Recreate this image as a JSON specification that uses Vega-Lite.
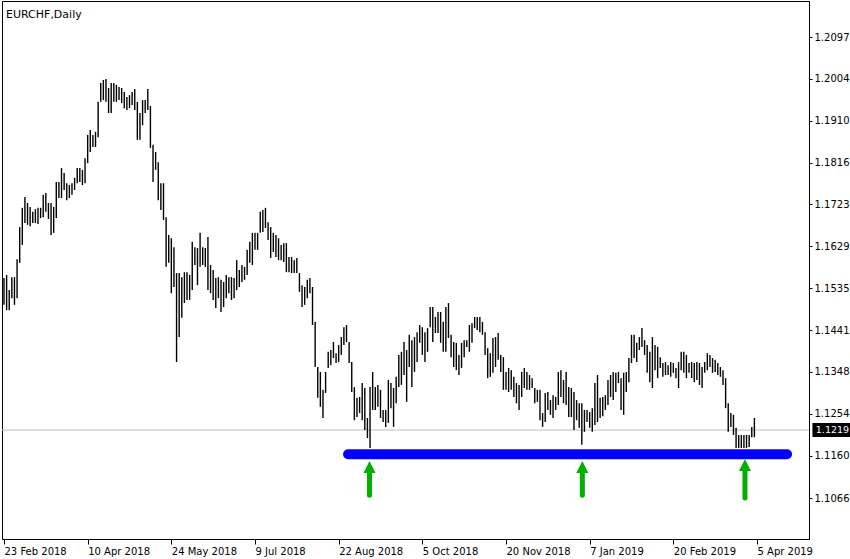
{
"$schema":"https://vega.github.io/schema/vega-lite/v6.json",
"width":807,"height":538,
"autosize":{"type":"none"},
"padding":{"left":2,"top":1,"right":41,"bottom":20},
"background":"white",
"title":{"text":"EURCHF,Daily","anchor":"start","frame":"group","orient":"top","offset":-8,"baseline":"top","dx":4,"dy":11,"font":"DejaVu Sans","fontSize":11,"fontWeight":"normal","color":"black"},
"config":{"view":{"stroke":"black","strokeWidth":1},"axis":{"grid":false,"domainColor":"black","tickColor":"black","labelColor":"black","labelFont":"DejaVu Sans","labelFontSize":10}},
"datasets":{
"bars":[
{"i":0,"h":1.1558,"l":1.1498},{"i":1,"h":1.1565,"l":1.1486},{"i":2,"h":1.1531,"l":1.1486},{"i":3,"h":1.1560,"l":1.1513},{"i":4,"h":1.1560,"l":1.1498},{"i":5,"h":1.1600,"l":1.1513},{"i":6,"h":1.1672,"l":1.1592},{"i":7,"h":1.1715,"l":1.1632},{"i":8,"h":1.1739,"l":1.1681},{"i":9,"h":1.1726,"l":1.1677},
{"i":10,"h":1.1717,"l":1.1674},{"i":11,"h":1.1706,"l":1.1681},{"i":12,"h":1.1712,"l":1.1681},{"i":13,"h":1.1715,"l":1.1679},{"i":14,"h":1.1715,"l":1.1692},{"i":15,"h":1.1744,"l":1.1694},{"i":16,"h":1.1748,"l":1.1706},{"i":17,"h":1.1726,"l":1.1690},{"i":18,"h":1.1726,"l":1.1654},{"i":19,"h":1.1717,"l":1.1659},
{"i":20,"h":1.1773,"l":1.1692},{"i":21,"h":1.1773,"l":1.1737},{"i":22,"h":1.1804,"l":1.1737},{"i":23,"h":1.1793,"l":1.1755},{"i":24,"h":1.1770,"l":1.1732},{"i":25,"h":1.1766,"l":1.1737},{"i":26,"h":1.1770,"l":1.1744},{"i":27,"h":1.1782,"l":1.1755},{"i":28,"h":1.1804,"l":1.1770},{"i":29,"h":1.1804,"l":1.1773},
{"i":30,"h":1.1800,"l":1.1766},{"i":31,"h":1.1826,"l":1.1770},{"i":32,"h":1.1878,"l":1.1815},{"i":33,"h":1.1889,"l":1.1840},{"i":34,"h":1.1878,"l":1.1851},{"i":35,"h":1.1885,"l":1.1851},{"i":36,"h":1.1952,"l":1.1873},{"i":37,"h":1.1994,"l":1.1952},{"i":38,"h":1.2001,"l":1.1956},{"i":39,"h":1.2003,"l":1.1952},
{"i":40,"h":1.1983,"l":1.1927},{"i":41,"h":1.1994,"l":1.1927},{"i":42,"h":1.1994,"l":1.1952},{"i":43,"h":1.1990,"l":1.1952},{"i":44,"h":1.1985,"l":1.1956},{"i":45,"h":1.1983,"l":1.1949},{"i":46,"h":1.1974,"l":1.1938},{"i":47,"h":1.1963,"l":1.1934},{"i":48,"h":1.1967,"l":1.1938},{"i":49,"h":1.1974,"l":1.1945},
{"i":50,"h":1.1981,"l":1.1934},{"i":51,"h":1.1952,"l":1.1867},{"i":52,"h":1.1927,"l":1.1867},{"i":53,"h":1.1956,"l":1.1900},{"i":54,"h":1.1956,"l":1.1927},{"i":55,"h":1.1981,"l":1.1934},{"i":56,"h":1.1943,"l":1.1849},{"i":57,"h":1.1856,"l":1.1773},{"i":58,"h":1.1840,"l":1.1800},{"i":59,"h":1.1817,"l":1.1732},
{"i":60,"h":1.1770,"l":1.1710},{"i":61,"h":1.1770,"l":1.1688},{"i":62,"h":1.1694,"l":1.1583},{"i":63,"h":1.1654,"l":1.1592},{"i":64,"h":1.1647,"l":1.1524},{"i":65,"h":1.1627,"l":1.1538},{"i":66,"h":1.1569,"l":1.1370},{"i":67,"h":1.1569,"l":1.1426},{"i":68,"h":1.1560,"l":1.1469},{"i":69,"h":1.1571,"l":1.1502},
{"i":70,"h":1.1571,"l":1.1509},{"i":71,"h":1.1565,"l":1.1509},{"i":72,"h":1.1639,"l":1.1531},{"i":73,"h":1.1627,"l":1.1587},{"i":74,"h":1.1625,"l":1.1542},{"i":75,"h":1.1659,"l":1.1583},{"i":76,"h":1.1627,"l":1.1587},{"i":77,"h":1.1625,"l":1.1583},{"i":78,"h":1.1650,"l":1.1531},{"i":79,"h":1.1587,"l":1.1524},
{"i":80,"h":1.1576,"l":1.1509},{"i":81,"h":1.1558,"l":1.1491},{"i":82,"h":1.1560,"l":1.1513},{"i":83,"h":1.1554,"l":1.1482},{"i":84,"h":1.1549,"l":1.1493},{"i":85,"h":1.1565,"l":1.1513},{"i":86,"h":1.1560,"l":1.1524},{"i":87,"h":1.1560,"l":1.1509},{"i":88,"h":1.1558,"l":1.1513},{"i":89,"h":1.1598,"l":1.1531},
{"i":90,"h":1.1576,"l":1.1538},{"i":91,"h":1.1587,"l":1.1549},{"i":92,"h":1.1583,"l":1.1554},{"i":93,"h":1.1621,"l":1.1565},{"i":94,"h":1.1639,"l":1.1592},{"i":95,"h":1.1659,"l":1.1587},{"i":96,"h":1.1659,"l":1.1621},{"i":97,"h":1.1659,"l":1.1621},{"i":98,"h":1.1706,"l":1.1659},{"i":99,"h":1.1710,"l":1.1661},
{"i":100,"h":1.1715,"l":1.1670},{"i":101,"h":1.1683,"l":1.1643},{"i":102,"h":1.1672,"l":1.1603},{"i":103,"h":1.1659,"l":1.1616},{"i":104,"h":1.1654,"l":1.1605},{"i":105,"h":1.1647,"l":1.1598},{"i":106,"h":1.1632,"l":1.1598},{"i":107,"h":1.1636,"l":1.1594},{"i":108,"h":1.1636,"l":1.1571},{"i":109,"h":1.1605,"l":1.1571},
{"i":110,"h":1.1605,"l":1.1569},{"i":111,"h":1.1598,"l":1.1569},{"i":112,"h":1.1603,"l":1.1569},{"i":113,"h":1.1569,"l":1.1527},{"i":114,"h":1.1542,"l":1.1493},{"i":115,"h":1.1538,"l":1.1498},{"i":116,"h":1.1554,"l":1.1513},{"i":117,"h":1.1558,"l":1.1524},{"i":118,"h":1.1538,"l":1.1453},{"i":119,"h":1.1460,"l":1.1359},
{"i":120,"h":1.1359,"l":1.1290},{"i":121,"h":1.1348,"l":1.1270},{"i":122,"h":1.1308,"l":1.1245},{"i":123,"h":1.1348,"l":1.1301},{"i":124,"h":1.1393,"l":1.1357},{"i":125,"h":1.1397,"l":1.1363},{"i":126,"h":1.1415,"l":1.1379},{"i":127,"h":1.1390,"l":1.1368},{"i":128,"h":1.1408,"l":1.1370},{"i":129,"h":1.1426,"l":1.1386},
{"i":130,"h":1.1448,"l":1.1408},{"i":131,"h":1.1453,"l":1.1415},{"i":132,"h":1.1415,"l":1.1368},{"i":133,"h":1.1370,"l":1.1303},{"i":134,"h":1.1314,"l":1.1240},{"i":135,"h":1.1290,"l":1.1247},{"i":136,"h":1.1292,"l":1.1256},{"i":137,"h":1.1323,"l":1.1240},{"i":138,"h":1.1312,"l":1.1218},{"i":139,"h":1.1245,"l":1.1200},
{"i":140,"h":1.1314,"l":1.1178},{"i":141,"h":1.1348,"l":1.1263},{"i":142,"h":1.1314,"l":1.1263},{"i":143,"h":1.1319,"l":1.1270},{"i":144,"h":1.1308,"l":1.1245},{"i":145,"h":1.1263,"l":1.1236},{"i":146,"h":1.1263,"l":1.1225},{"i":147,"h":1.1330,"l":1.1234},{"i":148,"h":1.1323,"l":1.1267},{"i":149,"h":1.1312,"l":1.1225},
{"i":150,"h":1.1337,"l":1.1278},{"i":151,"h":1.1386,"l":1.1314},{"i":152,"h":1.1393,"l":1.1319},{"i":153,"h":1.1415,"l":1.1341},{"i":154,"h":1.1397,"l":1.1281},{"i":155,"h":1.1431,"l":1.1359},{"i":156,"h":1.1419,"l":1.1314},{"i":157,"h":1.1426,"l":1.1348},{"i":158,"h":1.1437,"l":1.1370},{"i":159,"h":1.1453,"l":1.1413},
{"i":160,"h":1.1448,"l":1.1386},{"i":161,"h":1.1437,"l":1.1370},{"i":162,"h":1.1446,"l":1.1393},{"i":163,"h":1.1493,"l":1.1448},{"i":164,"h":1.1493,"l":1.1415},{"i":165,"h":1.1471,"l":1.1435},{"i":166,"h":1.1482,"l":1.1435},{"i":167,"h":1.1482,"l":1.1413},{"i":168,"h":1.1460,"l":1.1393},{"i":169,"h":1.1493,"l":1.1393},
{"i":170,"h":1.1502,"l":1.1424},{"i":171,"h":1.1431,"l":1.1381},{"i":172,"h":1.1415,"l":1.1359},{"i":173,"h":1.1413,"l":1.1352},{"i":174,"h":1.1386,"l":1.1341},{"i":175,"h":1.1413,"l":1.1357},{"i":176,"h":1.1419,"l":1.1381},{"i":177,"h":1.1419,"l":1.1404},{"i":178,"h":1.1453,"l":1.1393},{"i":179,"h":1.1457,"l":1.1413},
{"i":180,"h":1.1471,"l":1.1446},{"i":181,"h":1.1471,"l":1.1442},{"i":182,"h":1.1471,"l":1.1437},{"i":183,"h":1.1460,"l":1.1431},{"i":184,"h":1.1437,"l":1.1386},{"i":185,"h":1.1401,"l":1.1334},{"i":186,"h":1.1390,"l":1.1337},{"i":187,"h":1.1424,"l":1.1346},{"i":188,"h":1.1426,"l":1.1359},{"i":189,"h":1.1435,"l":1.1375},
{"i":190,"h":1.1386,"l":1.1348},{"i":191,"h":1.1381,"l":1.1308},{"i":192,"h":1.1348,"l":1.1308},{"i":193,"h":1.1357,"l":1.1303},{"i":194,"h":1.1352,"l":1.1308},{"i":195,"h":1.1337,"l":1.1292},{"i":196,"h":1.1323,"l":1.1278},{"i":197,"h":1.1319,"l":1.1263},{"i":198,"h":1.1348,"l":1.1292},{"i":199,"h":1.1357,"l":1.1312},
{"i":200,"h":1.1348,"l":1.1308},{"i":201,"h":1.1341,"l":1.1308},{"i":202,"h":1.1334,"l":1.1312},{"i":203,"h":1.1312,"l":1.1278},{"i":204,"h":1.1308,"l":1.1281},{"i":205,"h":1.1308,"l":1.1240},{"i":206,"h":1.1256,"l":1.1225},{"i":207,"h":1.1301,"l":1.1236},{"i":208,"h":1.1303,"l":1.1263},{"i":209,"h":1.1285,"l":1.1252},
{"i":210,"h":1.1296,"l":1.1245},{"i":211,"h":1.1292,"l":1.1263},{"i":212,"h":1.1348,"l":1.1274},{"i":213,"h":1.1352,"l":1.1292},{"i":214,"h":1.1330,"l":1.1278},{"i":215,"h":1.1348,"l":1.1274},{"i":216,"h":1.1314,"l":1.1247},{"i":217,"h":1.1312,"l":1.1247},{"i":218,"h":1.1303,"l":1.1218},{"i":219,"h":1.1285,"l":1.1240},
{"i":220,"h":1.1278,"l":1.1223},{"i":221,"h":1.1278,"l":1.1185},{"i":222,"h":1.1263,"l":1.1214},{"i":223,"h":1.1263,"l":1.1236},{"i":224,"h":1.1258,"l":1.1223},{"i":225,"h":1.1267,"l":1.1214},{"i":226,"h":1.1323,"l":1.1229},{"i":227,"h":1.1341,"l":1.1236},{"i":228,"h":1.1290,"l":1.1245},{"i":229,"h":1.1292,"l":1.1249},
{"i":230,"h":1.1296,"l":1.1263},{"i":231,"h":1.1330,"l":1.1274},{"i":232,"h":1.1341,"l":1.1292},{"i":233,"h":1.1348,"l":1.1285},{"i":234,"h":1.1346,"l":1.1303},{"i":235,"h":1.1348,"l":1.1323},{"i":236,"h":1.1334,"l":1.1263},{"i":237,"h":1.1346,"l":1.1252},{"i":238,"h":1.1348,"l":1.1303},{"i":239,"h":1.1379,"l":1.1325},
{"i":240,"h":1.1431,"l":1.1368},{"i":241,"h":1.1431,"l":1.1379},{"i":242,"h":1.1413,"l":1.1370},{"i":243,"h":1.1426,"l":1.1397},{"i":244,"h":1.1446,"l":1.1404},{"i":245,"h":1.1419,"l":1.1386},{"i":246,"h":1.1408,"l":1.1346},{"i":247,"h":1.1393,"l":1.1325},{"i":248,"h":1.1426,"l":1.1312},{"i":249,"h":1.1408,"l":1.1352},
{"i":250,"h":1.1404,"l":1.1334},{"i":251,"h":1.1381,"l":1.1357},{"i":252,"h":1.1368,"l":1.1337},{"i":253,"h":1.1370,"l":1.1341},{"i":254,"h":1.1363,"l":1.1341},{"i":255,"h":1.1370,"l":1.1337},{"i":256,"h":1.1368,"l":1.1346},{"i":257,"h":1.1357,"l":1.1334},{"i":258,"h":1.1370,"l":1.1312},{"i":259,"h":1.1393,"l":1.1352},
{"i":260,"h":1.1393,"l":1.1346},{"i":261,"h":1.1386,"l":1.1334},{"i":262,"h":1.1368,"l":1.1346},{"i":263,"h":1.1370,"l":1.1334},{"i":264,"h":1.1368,"l":1.1325},{"i":265,"h":1.1370,"l":1.1330},{"i":266,"h":1.1368,"l":1.1319},{"i":267,"h":1.1359,"l":1.1312},{"i":268,"h":1.1370,"l":1.1346},{"i":269,"h":1.1390,"l":1.1352},
{"i":270,"h":1.1386,"l":1.1359},{"i":271,"h":1.1379,"l":1.1346},{"i":272,"h":1.1375,"l":1.1348},{"i":273,"h":1.1368,"l":1.1341},{"i":274,"h":1.1359,"l":1.1337},{"i":275,"h":1.1352,"l":1.1319},{"i":276,"h":1.1334,"l":1.1267},{"i":277,"h":1.1278,"l":1.1214},{"i":278,"h":1.1256,"l":1.1225},{"i":279,"h":1.1252,"l":1.1207},
{"i":280,"h":1.1223,"l":1.1178},{"i":281,"h":1.1207,"l":1.1178},{"i":282,"h":1.1207,"l":1.1178},{"i":283,"h":1.1207,"l":1.1178},{"i":284,"h":1.1207,"l":1.1178},{"i":285,"h":1.1207,"l":1.1180},{"i":286,"h":1.1225,"l":1.1202},{"i":287,"h":1.1245,"l":1.1202}
],
"current":[{"price":1.1218,"label":"1.1219"}],
"support":[{"from":131.6,"to":299.5,"price":1.1164}],
"arrows":[{"i":139.8,"tail":1.1072,"neck":1.1124,"tip":1.1149},{"i":221.2,"tail":1.1072,"neck":1.1124,"tip":1.1149},{"i":283.4,"tail":1.1066,"neck":1.1126,"tip":1.1153}]
},
"layer":[
{"data":{"name":"current"},"mark":{"type":"rule","color":"#c0c0c0","strokeWidth":1},
 "encoding":{"y":{"field":"price","type":"quantitative","scale":{"domain":[1.09743,1.21776],"nice":false,"zero":false},
   "axis":{"title":null,"orient":"right","values":[1.1066,1.116,1.1254,1.1348,1.1441,1.1535,1.1629,1.1723,1.1816,1.191,1.2004,1.2097],"format":".4f","tickSize":3,"labelPadding":2,"labelAlign":"left","labelBaseline":"middle","labelOverlap":false,"labelBound":false,"labelFlush":false}}}},
{"data":{"name":"bars"},"mark":{"type":"rule","color":"black","strokeWidth":1.4},
 "encoding":{
  "x":{"field":"i","type":"quantitative","scale":{"domain":[-0.765,307.89],"nice":false,"zero":false},
   "axis":{"title":null,"orient":"bottom","values":[0,32,64,96,128,160,192,224,256,288],"labelExpr":"['23 Feb 2018','10 Apr 2018','24 May 2018','9 Jul 2018','22 Aug 2018','5 Oct 2018','20 Nov 2018','7 Jan 2019','20 Feb 2019','5 Apr 2019'][round(datum.value/32)]","labelAlign":"left","labelBaseline":"top","labelPadding":2,"labelDx":1,"tickSize":5,"labelFlush":false,"labelOverlap":false,"labelBound":false}},
  "y":{"field":"h","type":"quantitative","title":null},
  "y2":{"field":"l"}}},
{"data":{"name":"support"},"mark":{"type":"rule","color":"#0000ff","strokeWidth":10,"strokeCap":"round"},
 "encoding":{
  "x":{"field":"from","type":"quantitative","title":null},
  "x2":{"field":"to"},
  "y":{"field":"price","type":"quantitative","title":null}}},
{"data":{"name":"arrows"},"mark":{"type":"rule","color":"#00b000","strokeWidth":5,"strokeCap":"round"},
 "encoding":{
  "x":{"field":"i","type":"quantitative","title":null},
  "y":{"field":"tail","type":"quantitative","title":null},
  "y2":{"field":"neck"}}},
{"data":{"name":"arrows"},"mark":{"type":"point","shape":"M0,0L-1,2L1,2Z","size":144,"filled":true,"color":"#00b000","opacity":1,"strokeWidth":0},
 "encoding":{
  "x":{"field":"i","type":"quantitative","title":null},
  "y":{"field":"tip","type":"quantitative","title":null}}},
{"data":{"name":"current"},"mark":{"type":"rect","color":"black"},
 "encoding":{
  "x":{"datum":309.2,"type":"quantitative"},
  "x2":{"datum":324},
  "y":{"datum":1.12337,"type":"quantitative"},
  "y2":{"datum":1.12024}}},
{"data":{"name":"current"},"mark":{"type":"text","color":"white","font":"DejaVu Sans","fontSize":9.5,"align":"left","baseline":"middle"},
 "encoding":{
  "x":{"datum":310.5,"type":"quantitative"},
  "y":{"field":"price","type":"quantitative","title":null},
  "text":{"field":"label"}}}
]
}
